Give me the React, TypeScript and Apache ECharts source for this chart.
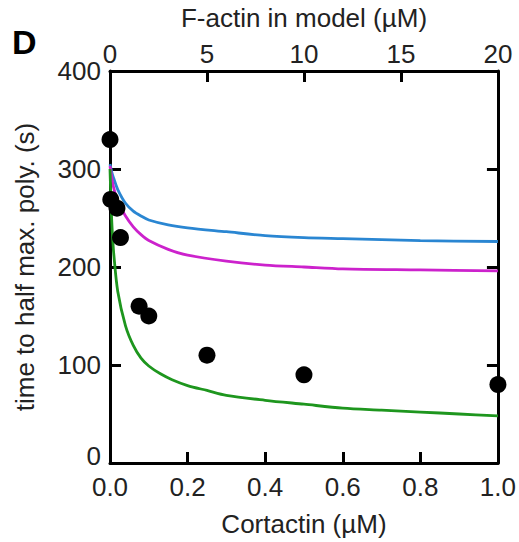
import React, { useEffect, useRef } from "react";
import * as echarts from "echarts";

const pointX = [0, 0.002, 0.018, 0.027, 0.075, 0.1, 0.25, 0.5, 1.0];
const pointY = [330, 269, 260, 230, 160, 150, 110, 90, 80];

const blueX = [0, 0.005, 0.01, 0.02, 0.04, 0.06, 0.08, 0.1, 0.15, 0.2, 0.3, 0.4, 0.5, 0.6, 0.8, 1.0];
const blueY = [305, 296, 290, 279, 265, 257, 252, 248, 243, 240, 236, 232, 230, 229, 227, 226];

const magentaX = [0, 0.005, 0.01, 0.02, 0.04, 0.06, 0.08, 0.1, 0.15, 0.2, 0.3, 0.4, 0.5, 0.6, 0.8, 1.0];
const magentaY = [303, 290, 280, 267, 252, 241, 233, 227, 218, 212, 206, 202, 200, 198, 197, 196];

const greenX = [0, 0.003, 0.006, 0.01, 0.02, 0.04, 0.06, 0.08, 0.1, 0.13, 0.16, 0.2, 0.25, 0.3, 0.4, 0.5, 0.6, 0.7, 0.8, 0.9, 1.0];
const greenY = [300, 262, 235, 212, 175, 140, 120, 107, 99, 91, 85, 79, 74, 69, 64, 60, 56, 54, 52, 50, 48];

const bottomTicks = [0, 0.2, 0.4, 0.6, 0.8, 1.0];
const topTicks = [0, 5, 10, 15, 20];
const leftTicks = [0, 100, 200, 300, 400];

const zip = (xs: number[], ys: number[]) => xs.map((x, i) => [x, ys[i]]);

export default function App() {
  const ref = useRef<HTMLDivElement>(null);
  useEffect(() => {
    const chart = echarts.init(ref.current!, undefined, { renderer: "svg" });
    const font = "Liberation Sans, Arial, sans-serif";
    const axisLine = { show: true, onZero: false, lineStyle: { color: "#000", width: 3 } };
    const tick = { show: true, inside: true, length: 11, lineStyle: { color: "#000", width: 3 } };
    const label = { fontFamily: font, fontSize: 26, color: "#222" };
    chart.setOption({
      animation: false,
      backgroundColor: "#fff",
      grid: { left: 110, right: 16, top: 70, bottom: 79 },
      graphic: [
        {
          type: "text",
          left: 12,
          top: 25,
          style: { text: "D", fontFamily: font, fontSize: 34, fontWeight: "bold", fill: "#000" },
        },
      ],
      xAxis: [
        {
          type: "value",
          min: 0,
          max: 1,
          interval: 0.2,
          position: "bottom",
          axisLine,
          axisTick: tick,
          splitLine: { show: false },
          axisLabel: { ...label, margin: 11, formatter: (v: number) => (bottomTicks.includes(Math.round(v * 10) / 10) ? v.toFixed(1) : "") },
          name: "Cortactin (µM)",
          nameLocation: "middle",
          nameGap: 48,
          nameTextStyle: { fontFamily: font, fontSize: 26, color: "#222" },
        },
        {
          type: "value",
          min: 0,
          max: 20,
          interval: 5,
          position: "top",
          axisLine,
          axisTick: tick,
          splitLine: { show: false },
          axisLabel: { ...label, margin: 4, formatter: (v: number) => (topTicks.includes(v) ? String(v) : "") },
          name: "F-actin in model (µM)",
          nameLocation: "middle",
          nameGap: 40,
          nameTextStyle: { fontFamily: font, fontSize: 26, color: "#222" },
        },
      ],
      yAxis: [
        {
          type: "value",
          min: 0,
          max: 400,
          interval: 100,
          position: "left",
          axisLine,
          axisTick: tick,
          splitLine: { show: false },
          axisLabel: {
            ...label,
            margin: 9,
            formatter: (v: number) => (v === 0 ? "{z|0}" : leftTicks.includes(v) ? String(v) : ""),
            rich: { z: { fontFamily: font, fontSize: 26, color: "#222", padding: [0, 0, 14, 0] } },
          },
          name: "time to half max. poly. (s)",
          nameLocation: "middle",
          nameGap: 72,
          nameTextStyle: { fontFamily: font, fontSize: 26, color: "#222" },
        },
        {
          type: "value",
          min: 0,
          max: 400,
          interval: 100,
          position: "right",
          axisLine,
          axisTick: tick,
          splitLine: { show: false },
          axisLabel: { show: false },
        },
      ],
      series: [
        {
          type: "line",
          data: zip(blueX, blueY),
          smooth: 0.3,
          showSymbol: false,
          lineStyle: { color: "#2a86d2", width: 2.8 },
          z: 2,
        },
        {
          type: "line",
          data: zip(magentaX, magentaY),
          smooth: 0.3,
          showSymbol: false,
          lineStyle: { color: "#cc22cc", width: 2.8 },
          z: 2,
        },
        {
          type: "line",
          data: zip(greenX, greenY),
          smooth: 0.3,
          showSymbol: false,
          lineStyle: { color: "#1e961e", width: 2.8 },
          z: 2,
        },
        {
          type: "scatter",
          data: zip(pointX, pointY),
          symbolSize: 17,
          itemStyle: { color: "#000", opacity: 1 },
          clip: false,
          z: 5,
        },
      ],
    });
    return () => chart.dispose();
  }, []);
  return <div ref={ref} style={{ width: 519, height: 542, position: "absolute", left: 0, top: 0 }} />;
}
